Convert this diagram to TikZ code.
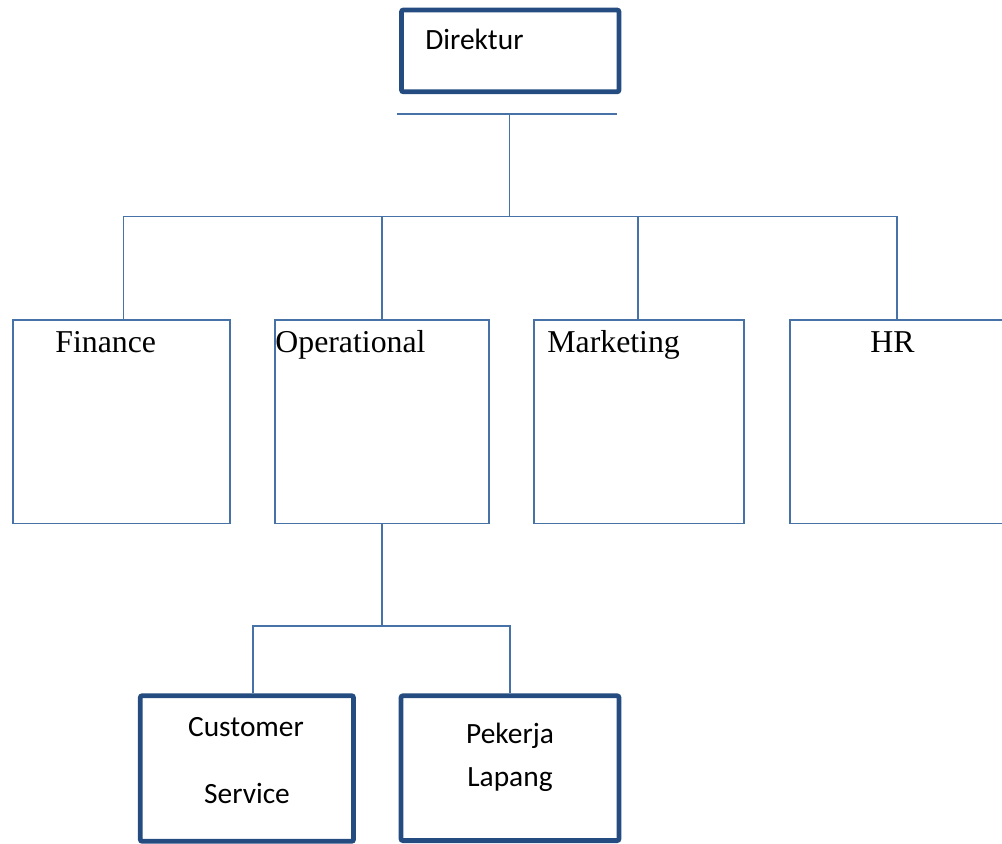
\documentclass[tikz,border=0pt]{standalone}
\usepackage{fontspec}
\setmainfont{Liberation Serif}
\newfontfamily\calibri{Carlito}
\usetikzlibrary{positioning}
\definecolor{linkblue}{RGB}{70,114,168}
\definecolor{framedark}{RGB}{36,76,128}

\begin{document}
\begin{tikzpicture}[x=0.5pt,y=-0.5pt,
    dept/.style={draw=linkblue,line width=0.9pt,minimum height=101.7pt,inner sep=0pt},
    head/.style={draw=framedark,line width=2.4pt,rounded corners=1pt,inner sep=0pt},
    tag/.style={font=\fontsize{15.9}{19}\selectfont,anchor=base west,inner sep=0pt},
    ctag/.style={font=\calibri\fontsize{14.7}{18}\selectfont,anchor=base,inner sep=0pt},
    conn/.style={draw=linkblue,line width=0.85pt}]
  \useasboundingbox (0,0) rectangle (1002,843);

  % boxes
  \node[head, minimum width=108.75pt, minimum height=40.9pt] (direktur)   at (510.25,50.9) {};
  \node[dept, minimum width=108.2pt]                          (finance)    at (121.5,421.7) {};
  \node[dept, minimum width=107pt]                            (operational) at (382,421.7)  {};
  \node[dept, minimum width=105pt]                            (marketing)  at (639,421.7)   {};
  \node[dept, minimum width=107pt]                            (hr)         at (897,421.7)   {};
  \node[head, minimum width=106.6pt, minimum height=72.8pt]   (cs)         at (246.9,768.5) {};
  \node[head, minimum width=109pt, minimum height=72.4pt]     (pekerja)    at (510,768.2)   {};

  % texts
  \node[tag, font=\calibri\fontsize{14.7}{18}\selectfont] (direktur text) at (425,49.3) {Direktur};
  \node[tag] (finance text)     at (55,352)  {Finance};
  \node[tag] (operational text) at (275,352) {Operational};
  \node[tag] (marketing text)   at (547,352) {Marketing};
  \node[tag] (hr text)          at (870,352) {HR};
  \node[ctag] (cs text a)      at (246,736) {Customer};
  \node[ctag] (cs text b)      at (247,803) {Service};
  \node[ctag] (pekerja text a) at (510,743) {Pekerja};
  \node[ctag] (pekerja text b) at (510,786) {Lapang};

  % connectors
  \coordinate (bar west) at (397,114);
  \coordinate (bar east) at (617,114);
  \coordinate (split)    at (509.5,216.5);
  \coordinate (opsplit)  at (382,626);

  \draw[conn] (bar west) -- (bar east);
  \draw[conn] (split |- bar west) -- (split);
  \draw[conn] ([xshift=1pt]finance.north) |- (split) -| (hr.north);
  \draw[conn] (operational.north) -- (operational.north |- split);
  \draw[conn] ([xshift=-0.5pt]marketing.north) -- ([xshift=-0.5pt]marketing.north |- split);
  \draw[conn] (operational.south) -- (opsplit);
  \draw[conn] ([xshift=3pt]cs.north) |- (opsplit) -| (pekerja.north);
\end{tikzpicture}
\end{document}
